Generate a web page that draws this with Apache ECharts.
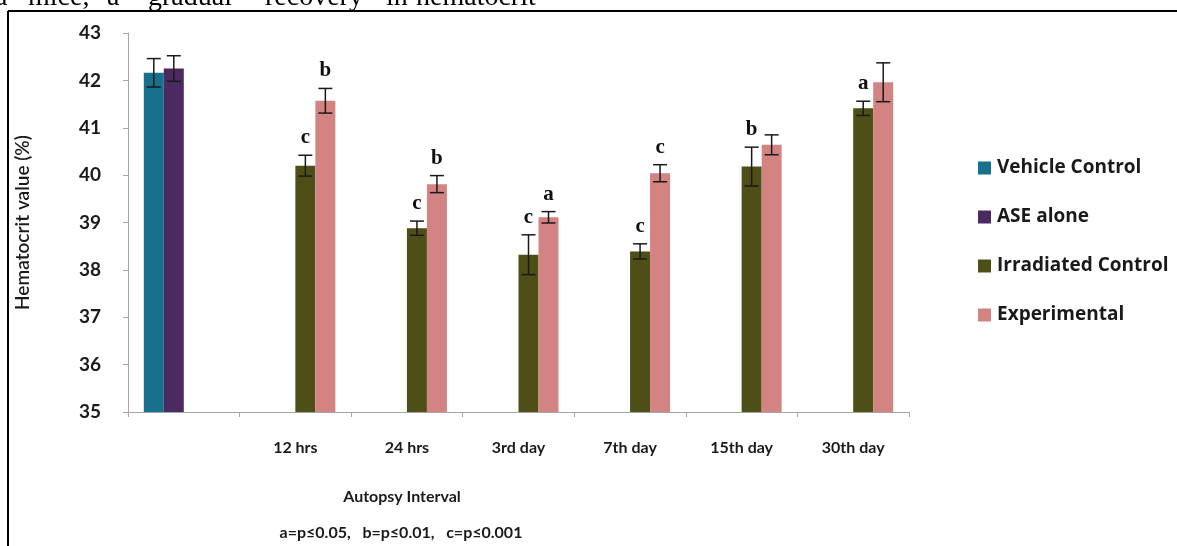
<!DOCTYPE html>
<html>
<head>
<meta charset="utf-8">
<script src="https://cdn.jsdelivr.net/npm/echarts@6/dist/echarts.min.js"></script>
<style>
html,body{margin:0;padding:0;background:#fff;}
#c{width:1177px;height:546px;}
</style>
</head>
<body>
<div id="c"></div>
<script>
// ---- data ----
var categories = ["", "12 hrs", "24 hrs", "3rd day", "7th day", "15th day", "30th day"];
var seriesNames = ["Vehicle Control", "ASE alone", "Irradiated Control", "Experimental"];
var vehicle = [42.16, null, null, null, null, null, null];
var vehicleErr = [0.30, null, null, null, null, null, null];
var ase = [42.25, null, null, null, null, null, null];
var aseErr = [0.27, null, null, null, null, null, null];
var irradiated = [null, 40.20, 38.88, 38.32, 38.39, 40.18, 41.41];
var irradiatedErr = [null, 0.22, 0.15, 0.42, 0.16, 0.41, 0.15];
var experimental = [null, 41.57, 39.81, 39.11, 40.04, 40.64, 41.96];
var experimentalErr = [null, 0.26, 0.18, 0.12, 0.18, 0.21, 0.41];
var vehicleSig = ["", "", "", "", "", "", ""];
var aseSig = ["", "", "", "", "", "", ""];
var irradiatedSig = ["", "c", "c", "c", "c", "b", "a"];
var experimentalSig = ["", "b", "b", "a", "c", "", ""];
var yTicks = [35, 36, 37, 38, 39, 40, 41, 42, 43];

// ---- styles ----
var colors = ["#17708c", "#4b2a62", "#4e4f17", "#d48383"];
var BAR_W = 20;
var FONT = "Lato";

var values = [vehicle, ase, irradiated, experimental];
var errs = [vehicleErr, aseErr, irradiatedErr, experimentalErr];
var sigs = [vehicleSig, aseSig, irradiatedSig, experimentalSig];

var series = [];
values.forEach(function (vals, si) {
  series.push({
    name: seriesNames[si],
    type: 'bar',
    data: vals,
    barWidth: BAR_W,
    barGap: '0%',
    itemStyle: { color: colors[si] },
    z: 2
  });
});
values.forEach(function (vals, si) {
  var d = [];
  vals.forEach(function (v, i) {
    if (v != null) d.push([i, v, errs[si][i]]);
  });
  series.push({
    name: 'err' + si,
    type: 'custom',
    z: 5,
    data: d,
    renderItem: function (params, api) {
      var ci = api.value(0), v = api.value(1), e = api.value(2);
      var c = api.coord([ci, v]);
      var x = c[0] + (si - 1.5) * BAR_W;
      var top = api.coord([ci, v + e])[1];
      var bot = api.coord([ci, v - e])[1];
      var hw = 7;
      var st = { stroke: '#1a1a1a', lineWidth: 1.5 };
      var children = [
        { type: 'line', shape: { x1: x, y1: top, x2: x, y2: bot }, style: st },
        { type: 'line', shape: { x1: x - hw, y1: top, x2: x + hw, y2: top }, style: st },
        { type: 'line', shape: { x1: x - hw, y1: bot, x2: x + hw, y2: bot }, style: st }
      ];
      var s = sigs[si][ci];
      if (s) {
        children.push({
          type: 'text',
          style: {
            x: x, y: top - 7, text: s,
            font: 'bold 21px "Liberation Serif"',
            fill: '#111', textAlign: 'center', textVerticalAlign: 'bottom'
          }
        });
      }
      return { type: 'group', children: children };
    }
  });
});

var chart = echarts.init(document.getElementById('c'), null, { renderer: 'canvas' });
var topWords = [
  ["a", -5], ["mice,", 28], ["a", 107], ["gradual", 148], ["recovery", 265], ["in", 386], ["hematocrit", 416]
];
var graphics = topWords.map(function (w) {
  return { type: 'text', x: w[1], y: -16, style: { text: w[0], font: '28px "Liberation Serif"', fill: '#000', textAlign: 'left', textVerticalAlign: 'top' } };
});
graphics.push(
  { type: 'line', shape: { x1: 8, y1: 11, x2: 1180, y2: 11 }, style: { stroke: '#000', lineWidth: 2 } },
  { type: 'line', shape: { x1: 8, y1: 11, x2: 8, y2: 550 }, style: { stroke: '#000', lineWidth: 2 } },
  { type: 'text', x: 402, y: 497, style: { text: 'Autopsy Interval', font: 'bold 16px ' + FONT, fill: '#1a1a1a', textAlign: 'center', textVerticalAlign: 'middle' } },
  { type: 'text', x: 401, y: 533, style: { text: 'a=p\u22640.05,   b=p\u22640.01,   c=p\u22640.001', font: 'bold 16px ' + FONT, fill: '#1a1a1a', textAlign: 'center', textVerticalAlign: 'middle' } }
);

chart.setOption({
  animation: false,
  backgroundColor: '#fff',
  grid: { left: 128, right: 268, top: 33, bottom: 134, containLabel: false },
  legend: {
    data: seriesNames,
    orient: 'vertical',
    left: 973,
    top: 152,
    itemWidth: 13,
    itemHeight: 13,
    itemGap: 27,
    icon: 'rect',
    selectedMode: false,
    textStyle: { fontFamily: '"Open Sans"', fontWeight: 'bold', fontSize: 19, color: '#1a1a1a', lineHeight: 22, padding: [0, 0, 0, 1] }
  },
  xAxis: {
    type: 'category',
    data: categories,
    axisLine: { lineStyle: { color: '#a6a6a6', width: 1 } },
    axisTick: { show: true, length: 5, lineStyle: { color: '#a6a6a6' } },
    axisLabel: { fontFamily: FONT, fontWeight: 'bold', fontSize: 16, color: '#1a1a1a', margin: 28 },
    splitLine: { show: false }
  },
  yAxis: {
    type: 'value',
    min: yTicks[0],
    max: yTicks[yTicks.length - 1],
    interval: 1,
    name: 'Hematocrit value (%)',
    nameLocation: 'middle',
    nameGap: 96,
    nameTextStyle: { fontFamily: FONT, fontWeight: 600, fontSize: 19, color: '#1a1a1a' },
    axisLine: { show: true, lineStyle: { color: '#a6a6a6', width: 1 } },
    axisTick: { show: true, length: 5, lineStyle: { color: '#a6a6a6' } },
    axisLabel: { fontFamily: FONT, fontWeight: 'bold', fontSize: 19, color: '#1a1a1a', margin: 27 },
    splitLine: { show: false }
  },
  graphic: graphics,
  series: series
});
</script>
</body>
</html>
